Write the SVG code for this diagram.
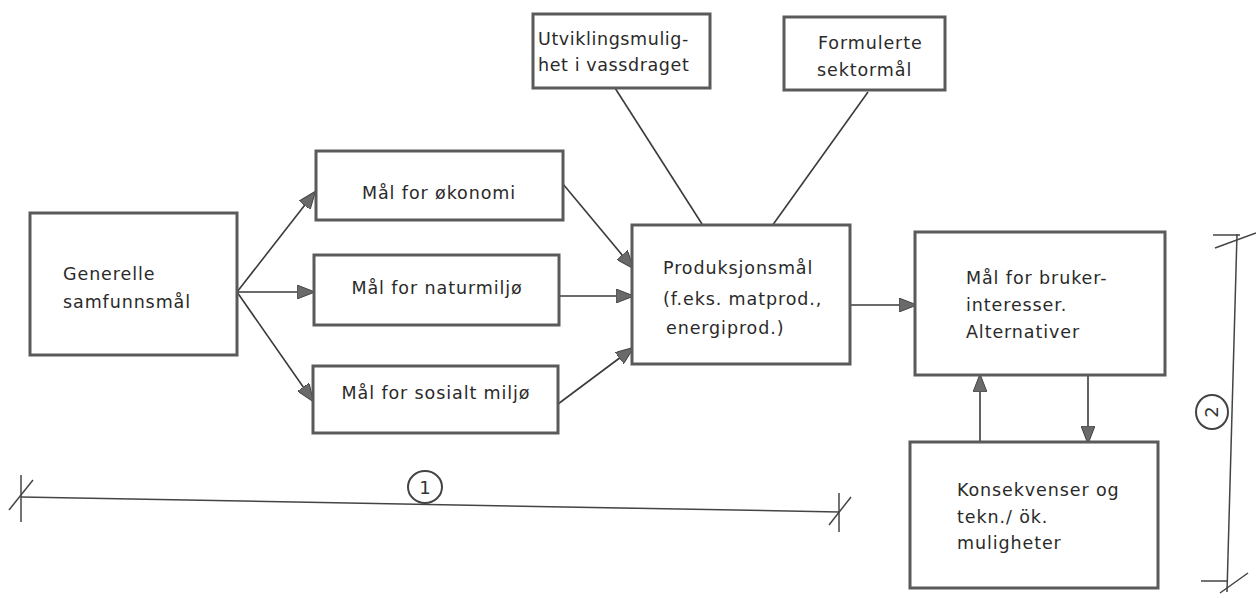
<svg xmlns="http://www.w3.org/2000/svg" width="1256" height="598" viewBox="0 0 1256 598">
<style>
.box{fill:#fff;stroke:#5a5a5a;stroke-width:3}
.t{font-family:"DejaVu Sans","Liberation Sans",sans-serif;font-size:17.5px;fill:#2a2a2a;letter-spacing:0.9px}
.c{stroke:#3a3a3a;stroke-width:1.6;fill:none}
.d{stroke:#444;stroke-width:1.5;fill:none}
</style>
<defs>
<marker id="ah" viewBox="0 0 18 14" refX="17" refY="7" markerWidth="18" markerHeight="14" markerUnits="userSpaceOnUse" orient="auto">
<path d="M0,0 L18,7 L0,14 Z" fill="#6a6a6a" stroke="#444" stroke-width="1"/>
</marker>
</defs>
<rect width="1256" height="598" fill="#fff"/>
<g id="connectors">
<line class="c" x1="237" y1="292" x2="315" y2="192" marker-end="url(#ah)"/>
<line class="c" x1="237" y1="292" x2="314" y2="292" marker-end="url(#ah)"/>
<line class="c" x1="237" y1="292" x2="313" y2="401" marker-end="url(#ah)"/>
<line class="c" x1="563" y1="184" x2="633" y2="268" marker-end="url(#ah)"/>
<line class="c" x1="559" y1="296" x2="633" y2="296" marker-end="url(#ah)"/>
<line class="c" x1="558" y1="404" x2="633" y2="348" marker-end="url(#ah)"/>
<line class="c" x1="615" y1="88" x2="702" y2="224"/>
<line class="c" x1="868" y1="92" x2="772" y2="226"/>
<line class="c" x1="850" y1="305" x2="916" y2="305" marker-end="url(#ah)"/>
<line class="c" x1="980" y1="442" x2="980" y2="375" marker-end="url(#ah)"/>
<line class="c" x1="1088" y1="376" x2="1088" y2="443" marker-end="url(#ah)"/>
</g>
<g id="n-generelle">
<rect class="box" x="30" y="213" width="207" height="142"/>
<text class="t" x="63" y="280">Generelle</text>
<text class="t" x="63" y="308">samfunnsmål</text>
</g>
<g id="n-okonomi">
<rect class="box" x="316" y="151" width="247" height="69"/>
<text class="t" x="439" y="199" text-anchor="middle">Mål for økonomi</text>
</g>
<g id="n-naturmiljo">
<rect class="box" x="314" y="255" width="245" height="70"/>
<text class="t" x="437" y="294" text-anchor="middle">Mål for naturmiljø</text>
</g>
<g id="n-sosialt">
<rect class="box" x="313" y="366" width="245" height="67"/>
<text class="t" x="436" y="399" text-anchor="middle">Mål for sosialt miljø</text>
</g>
<g id="n-utvikling">
<rect class="box" x="533" y="14" width="177" height="74"/>
<text class="t" x="538" y="45" style="letter-spacing:0.6px">Utviklingsmulig-</text>
<text class="t" x="538" y="71" style="letter-spacing:0.6px">het i vassdraget</text>
</g>
<g id="n-formulerte">
<rect class="box" x="784" y="17" width="161" height="73"/>
<text class="t" x="818" y="49">Formulerte</text>
<text class="t" x="817" y="76">sektormål</text>
</g>
<g id="n-produksjon">
<rect class="box" x="632" y="225" width="218" height="139"/>
<text class="t" x="663" y="274">Produksjonsmål</text>
<text class="t" x="663" y="305">(f.eks. matprod.,</text>
<text class="t" x="666" y="334">energiprod.)</text>
</g>
<g id="n-bruker">
<rect class="box" x="915" y="232" width="250" height="143"/>
<text class="t" x="966" y="284">Mål for bruker-</text>
<text class="t" x="966" y="311">interesser.</text>
<text class="t" x="966" y="338">Alternativer</text>
</g>
<g id="n-konsekvenser">
<rect class="box" x="910" y="442" width="248" height="146"/>
<text class="t" x="957" y="496">Konsekvenser og</text>
<text class="t" x="957" y="523">tekn./ ök.</text>
<text class="t" x="957" y="549">muligheter</text>
</g>
<g id="dimension-1">
<line class="d" x1="21" y1="497" x2="839" y2="512"/>
<line class="d" x1="21" y1="475" x2="21" y2="522"/>
<line class="d" x1="9" y1="510" x2="33" y2="480"/>
<line class="d" x1="839" y1="493" x2="839" y2="532"/>
<line class="d" x1="829" y1="525" x2="851" y2="497"/>
<ellipse cx="425" cy="487" rx="17" ry="16" fill="#fff" stroke="#444" stroke-width="2"/>
<text x="425" y="494" text-anchor="middle" style="font-family:'DejaVu Sans','Liberation Sans',sans-serif;font-size:18px;fill:#333">1</text>
</g>
<g id="dimension-2">
<line class="d" x1="1237" y1="234" x2="1227" y2="592"/>
<line class="d" x1="1213" y1="235" x2="1240" y2="235"/>
<line class="d" x1="1215" y1="248" x2="1256" y2="233"/>
<line class="d" x1="1201" y1="581" x2="1228" y2="581"/>
<line class="d" x1="1220" y1="593" x2="1248" y2="573"/>
<ellipse cx="1212" cy="412" rx="16" ry="17" fill="#fff" stroke="#444" stroke-width="2"/>
<text x="1212" y="412" text-anchor="middle" transform="rotate(-90 1212 412)" dy="6" style="font-family:'DejaVu Sans','Liberation Sans',sans-serif;font-size:18px;fill:#333">2</text>
</g>
</svg>
